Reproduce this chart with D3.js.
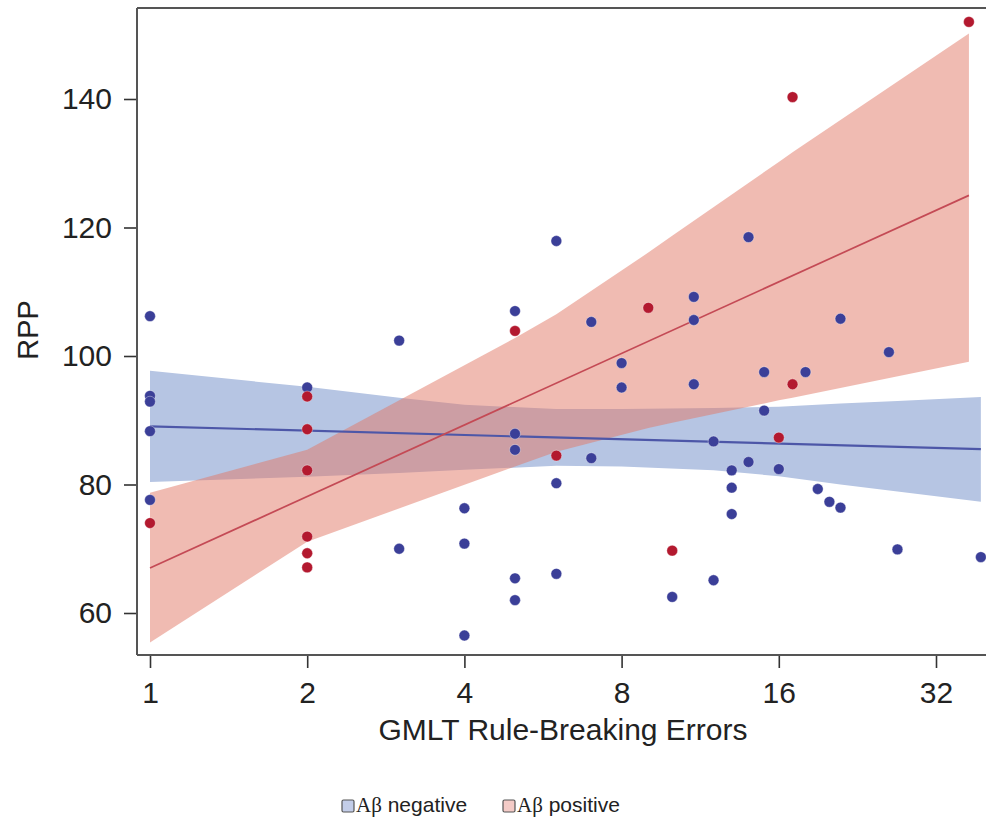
<!DOCTYPE html>
<html>
<head>
<meta charset="utf-8">
<script src="https://cdn.jsdelivr.net/npm/d3@7"></script>
<style>
  body { margin: 0; background: #fff; }
  svg { display: block; }
  text { font-family: "Liberation Sans", Arial, sans-serif; fill: #222; }
</style>
</head>
<body>
<div id="chart"></div>
<script>
// x ticks (log2 axis) and y ticks
const xTicks = [1, 2, 4, 8, 16, 32];
const yTicks = [60, 80, 100, 120, 140];

// Aβ negative observations: [GMLT errors, RPP]
const negPoints = [
    [1, 106.2], [1, 93.8], [1, 92.9], [1, 88.3], [1, 77.6],
    [2, 95.1],
    [3, 102.4], [3, 70.0],
    [4, 76.3], [4, 70.8], [4, 56.5],
    [5, 107.0], [5, 87.9], [5, 85.4], [5, 65.4], [5, 62.0],
    [6, 117.9], [6, 80.2], [6, 66.1],
    [7, 105.3], [7, 84.1],
    [8, 98.9], [8, 95.1],
    [10, 62.5],
    [11, 109.2], [11, 105.6], [11, 95.6],
    [12, 86.7], [12, 65.1],
    [13, 82.2], [13, 79.5], [13, 75.4],
    [14, 118.5], [14, 83.5],
    [15, 97.5], [15, 91.5],
    [16, 82.4],
    [18, 97.5],
    [19, 79.3],
    [20, 77.3],
    [21, 105.8], [21, 76.4],
    [26, 100.6],
    [27, 69.9],
    [39, 68.7]
];

// Aβ positive observations
const posPoints = [
    [1, 74.0],
    [2, 93.7], [2, 88.6], [2, 82.2], [2, 71.9], [2, 69.3], [2, 67.1],
    [5, 103.9],
    [6, 84.5],
    [9, 107.5],
    [10, 69.7],
    [16, 87.3],
    [17, 95.6], [17, 140.3],
    [37, 152.0]
];

// fitted lines (end points) and confidence bands
const negFit = [[1, 89.05], [39, 85.5]];
const posFit = [[1, 67.0], [37, 125.0]];

const negBandX = [1, 2, 3, 4, 6, 8, 12, 16, 21, 27, 39];
const negBandLo = [80.4, 81.2, 81.8, 82.3, 82.9, 82.8, 82.2, 81.3, 80.0, 78.9, 77.3];
const negBandHi = [97.7, 95.2, 93.5, 92.4, 91.75, 91.75, 91.9, 92.1, 92.6, 93.0, 93.6];

const posBandX = [1, 2, 5, 6, 9, 10, 16, 17, 37];
const posBandLo = [55.4, 71.1, 82.8, 85.1, 88.8, 89.6, 93.1, 93.5, 99.1];
const posBandHi = [78.7, 85.4, 102.8, 106.5, 116.1, 118.7, 130.2, 131.7, 150.2];

const legendItems = [
    { label: "negative", fill: "#c3cde8" },
    { label: "positive", fill: "#f4cbc7" }
];

const width = 986, height = 819;
const frame = { left: 137, top: 8, right: 986, bottom: 655 };

const svg = d3.select("#chart").append("svg")
    .attr("width", width)
    .attr("height", height);

const x = d3.scaleLog().base(2).domain([1, 32]).range([150, 936]);
const y = d3.scaleLinear().domain([60, 140]).range([613, 99]);

// clip to the frame
svg.append("clipPath").attr("id", "clip")
    .append("rect")
    .attr("x", frame.left).attr("y", frame.top)
    .attr("width", frame.right - frame.left)
    .attr("height", frame.bottom - frame.top);

const plot = svg.append("g").attr("clip-path", "url(#clip)");

const area = d3.area()
    .x(d => x(d.x))
    .y0(d => y(d.lo))
    .y1(d => y(d.hi));

const negBand = negBandX.map((v, i) => ({ x: v, lo: negBandLo[i], hi: negBandHi[i] }));
const posBand = posBandX.map((v, i) => ({ x: v, lo: posBandLo[i], hi: posBandHi[i] }));

plot.append("path")
    .datum(negBand)
    .attr("d", area)
    .attr("fill", "#b6c5e3");

plot.append("path")
    .datum(posBand)
    .attr("d", area)
    .attr("fill", "#e27866")
    .attr("fill-opacity", 0.5);

const line = d3.line()
    .x(d => x(d[0]))
    .y(d => y(d[1]));

plot.append("path")
    .datum(negFit)
    .attr("d", line)
    .attr("fill", "none")
    .attr("stroke", "#4d57a8")
    .attr("stroke-width", 2.2);

plot.append("path")
    .datum(posFit)
    .attr("d", line)
    .attr("fill", "none")
    .attr("stroke", "#c44a55")
    .attr("stroke-width", 1.7);

// points
const drawPoints = (data, color) => {
    plot.append("g")
        .selectAll("circle")
        .data(data)
        .enter()
        .append("circle")
        .attr("cx", d => x(d[0]))
        .attr("cy", d => y(d[1]))
        .attr("r", 5.4)
        .attr("fill", color)
        .attr("stroke", "#ffffff")
        .attr("stroke-opacity", 0.45)
        .attr("stroke-width", 0.8);
};
drawPoints(negPoints, "#3b3f98");
drawPoints(posPoints, "#b3192f");

// frame lines
const frameColor = "#555";
svg.append("line")
    .attr("x1", frame.left).attr("x2", frame.right)
    .attr("y1", frame.top).attr("y2", frame.top)
    .attr("stroke", frameColor).attr("stroke-width", 2);

// axes
const xAxis = d3.axisBottom(x)
    .tickValues(xTicks)
    .tickFormat(d3.format("d"))
    .tickSizeInner(13)
    .tickSizeOuter(0)
    .tickPadding(14);

const yAxis = d3.axisLeft(y)
    .tickValues(yTicks)
    .tickSizeInner(13)
    .tickSizeOuter(0)
    .tickPadding(12);

const gx = svg.append("g")
    .attr("transform", `translate(0,${frame.bottom})`)
    .call(xAxis);
gx.select(".domain").remove();
gx.append("line")
    .attr("x1", frame.left).attr("x2", frame.right)
    .attr("stroke", frameColor).attr("stroke-width", 2);

const gy = svg.append("g")
    .attr("transform", `translate(${frame.left},0)`)
    .call(yAxis);
gy.select(".domain").remove();
gy.append("line")
    .attr("y1", frame.top).attr("y2", frame.bottom)
    .attr("stroke", frameColor).attr("stroke-width", 2);

svg.selectAll(".tick line").attr("stroke", "#333").attr("stroke-width", 1.6);
svg.selectAll(".tick text")
    .style("font-family", "'Liberation Sans', Arial, sans-serif")
    .style("font-size", "30px")
    .attr("fill", "#222");

// axis titles
svg.append("text")
    .attr("x", 563)
    .attr("y", 740)
    .attr("text-anchor", "middle")
    .style("font-size", "30px")
    .text("GMLT Rule-Breaking Errors");

svg.append("text")
    .attr("transform", "translate(38,330) rotate(-90)")
    .attr("text-anchor", "middle")
    .style("font-size", "29px")
    .text("RPP");

// legend
const legend = svg.append("g").attr("transform", "translate(342,800)");
let lx = 0;
legendItems.forEach((item) => {
    const g = legend.append("g").attr("transform", `translate(${lx},0)`);
    g.append("rect")
        .attr("width", 12).attr("height", 12)
        .attr("rx", 1.5)
        .attr("fill", item.fill)
        .attr("stroke", "#555")
        .attr("stroke-width", 1.2);
    const t = g.append("text")
        .attr("x", 14)
        .attr("y", 12)
        .style("font-size", "21px");
    t.append("tspan").style("font-family", "'Liberation Serif', 'Times New Roman', serif").text("Aβ");
    t.append("tspan").text(" " + item.label);
    lx += 161;
});
</script>
</body>
</html>
